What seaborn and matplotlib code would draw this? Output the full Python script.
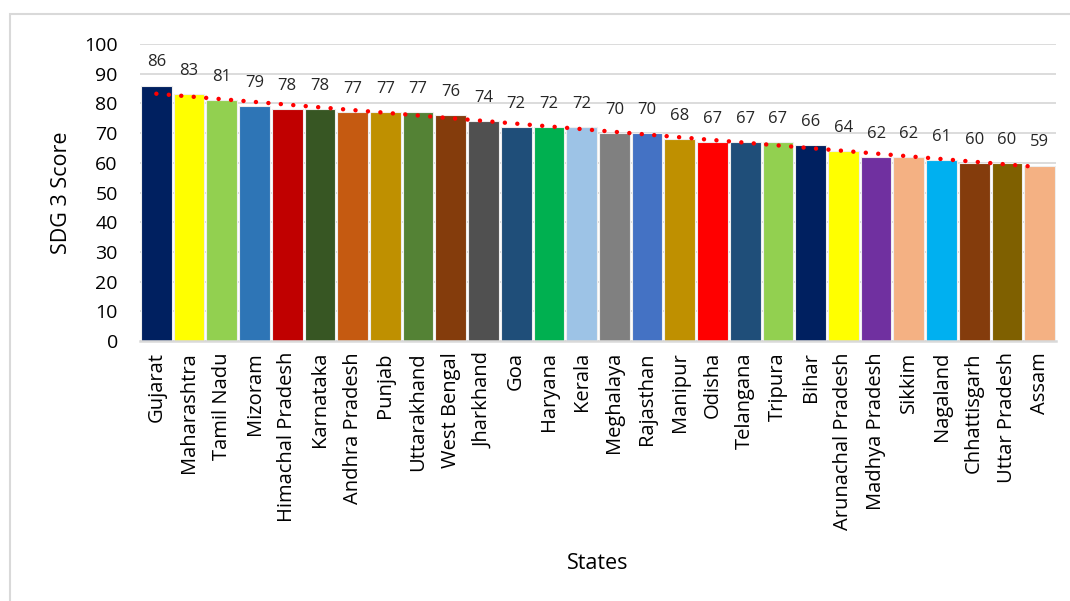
import matplotlib
matplotlib.use("Agg")
import matplotlib.pyplot as plt
import seaborn as sns
import numpy as np
import pandas as pd
from matplotlib.patches import Rectangle

states = ["Gujarat", "Maharashtra", "Tamil Nadu", "Mizoram", "Himachal Pradesh",
          "Karnataka", "Andhra Pradesh", "Punjab", "Uttarakhand", "West Bengal",
          "Jharkhand", "Goa", "Haryana", "Kerala", "Meghalaya", "Rajasthan",
          "Manipur", "Odisha", "Telangana", "Tripura", "Bihar", "Arunachal Pradesh",
          "Madhya Pradesh", "Sikkim", "Nagaland", "Chhattisgarh", "Uttar Pradesh", "Assam"]
scores = [86, 83, 81, 79, 78, 78, 77, 77, 77, 76, 74, 72, 72, 72, 70, 70,
          68, 67, 67, 67, 66, 64, 62, 62, 61, 60, 60, 59]
bar_colors = ["#002060", "#FFFF00", "#92D050", "#2E75B6", "#C00000", "#375623",
              "#C55A11", "#BF9000", "#548235", "#843C0C", "#505050", "#1F4E79",
              "#00B050", "#9DC3E6", "#808080", "#4472C4", "#BF9000", "#FF0000",
              "#1F4E79", "#92D050", "#002060", "#FFFF00", "#7030A0", "#F4B183",
              "#00B0F0", "#843C0C", "#7F6000", "#F4B183"]
y_ticks = [0, 10, 20, 30, 40, 50, 60, 70, 80, 90, 100]

df = pd.DataFrame({"State": states, "Score": scores})
df["pos"] = np.arange(len(states))

sns.set_theme(style="white")
plt.rcParams["font.family"] = ["Open Sans", "DejaVu Sans"]

W, H = 1070, 601
fig = plt.figure(figsize=(W / 100, H / 100), dpi=100)
ax = fig.add_axes([140 / W, 1 - 341 / H, (1056 - 140) / W, (341 - 44) / H])

# outer chart border
fig.patches.append(Rectangle((9.5 / W, -0.05), 1.2, 1 - 14.5 / H + 0.05,
                             transform=fig.transFigure, fill=False,
                             edgecolor="#d9d9d9", linewidth=1.5, zorder=0))

sns.barplot(data=df, x="State", y="Score", hue="State",
            palette=dict(zip(states, bar_colors)), legend=False,
            width=0.94, linewidth=0.8, edgecolor="#eeeeee", saturation=1,
            ax=ax, zorder=3)

for c in ax.containers:
    ax.bar_label(c, fmt="%d", padding=11, fontsize=12, color="#262626")

sns.regplot(x=df["pos"], y=df["Score"], scatter=False, ci=None, ax=ax,
            line_kws=dict(color="#FF0000", linewidth=3.2, linestyle=(0, (0.01, 2.8)),
                          dash_capstyle="round", zorder=4))

ax.set_xlim(-0.5, len(states) - 0.5)
ax.set_ylim(0, 100)
ax.set_yticks(y_ticks)
ax.yaxis.grid(True, color="#d9d9d9", linewidth=1.3, zorder=0)
ax.set_axisbelow(True)
for s in ["top", "right", "left"]:
    ax.spines[s].set_visible(False)
ax.spines["bottom"].set_color("#d9d9d9")
ax.spines["bottom"].set_linewidth(1.8)
ax.spines["bottom"].set_zorder(5)

ax.set_xticks(range(len(states)))
ax.set_xticklabels(states, rotation=90, fontsize=14.5, color="#000000")
ax.tick_params(axis="x", length=0, pad=8)
ax.tick_params(axis="y", length=0, pad=16, labelsize=14, labelcolor="#000000")

ax.set_xlabel("States", fontsize=15.5, color="#000000", labelpad=17)
ax.set_ylabel("SDG 3 Score", fontsize=15.5, color="#000000", labelpad=9)

fig.savefig("out.png", dpi=100)
